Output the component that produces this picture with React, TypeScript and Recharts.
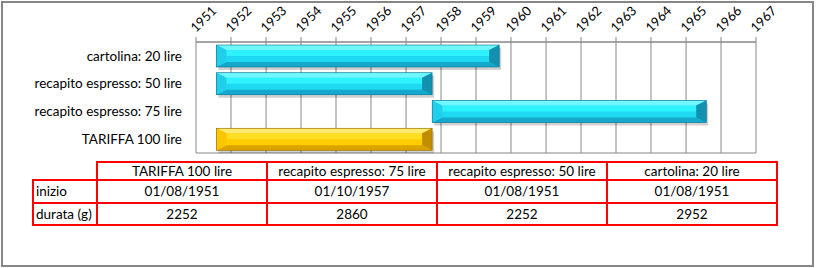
import { BarChart, Bar, XAxis, YAxis, CartesianGrid } from "recharts";

const categories = [
  "TARIFFA 100 lire",
  "recapito espresso: 75 lire",
  "recapito espresso: 50 lire",
  "cartolina: 20 lire",
];
const startDates = ["01/08/1951", "01/10/1957", "01/08/1951", "01/08/1951"];
const durations = [2252, 2860, 2252, 2952];
const years = [
  1951, 1952, 1953, 1954, 1955, 1956, 1957, 1958, 1959, 1960, 1961, 1962,
  1963, 1964, 1965, 1966, 1967,
];
const rowLabels = ["inizio", "durata (g)"];

const DAY = 86400000;
const FONT = "Lato, 'Open Sans', sans-serif";
const GRID = "#878787";

function parseDate(s: string) {
  const [d, m, y] = s.split("/").map(Number);
  return Date.UTC(y, m - 1, d);
}

const yearTicks = years.map((y) => Date.UTC(y, 0, 1));
const bandTicks = [0, ...categories.map((_, i) => i + 1)];

const data = categories.map((name, i) => {
  const s = parseDate(startDates[i]);
  return { name, range: [s, s + durations[i] * DAY] };
});

const palettes = {
  cyan: {
    top: "#6ff8ff",
    hi: "#2ef3ff",
    mid: "#1fd8f2",
    low: "#14a9ca",
    left: "#22cfea",
    right: "#138fb0",
    edge: "#0b6f8c",
  },
  gold: {
    top: "#ffeb70",
    hi: "#ffdd22",
    mid: "#ffcc00",
    low: "#dca200",
    left: "#f9c600",
    right: "#c08e00",
    edge: "#8a6500",
  },
};

function BevelBar(props: any) {
  const { x, y, width: w, height: h, payload } = props;
  if (!w || !h) return null;
  const p = payload.name.startsWith("TARIFFA") ? palettes.gold : palettes.cyan;
  const bx = 10;
  const by = 5;
  return (
    <g>
      <rect x={x + 2} y={y + 3} width={w} height={h} fill="#000" opacity={0.18} />
      <rect x={x} y={y} width={w} height={h} fill={p.mid} />
      <rect x={x + bx} y={y + by} width={w - 2 * bx} height={(h - 2 * by) / 2} fill={p.hi} />
      <polygon
        points={`${x},${y} ${x + w},${y} ${x + w - bx},${y + by} ${x + bx},${y + by}`}
        fill={p.top}
      />
      <polygon
        points={`${x},${y + h} ${x + w},${y + h} ${x + w - bx},${y + h - by} ${x + bx},${y + h - by}`}
        fill={p.low}
      />
      <polygon
        points={`${x},${y} ${x + bx},${y + by} ${x + bx},${y + h - by} ${x},${y + h}`}
        fill={p.left}
      />
      <polygon
        points={`${x + w},${y} ${x + w - bx},${y + by} ${x + w - bx},${y + h - by} ${x + w},${y + h}`}
        fill={p.right}
      />
      <rect x={x} y={y} width={w} height={h} fill="none" stroke={p.edge} strokeWidth={0.6} />
    </g>
  );
}

function YearTick(props: any) {
  const { x, y, payload } = props;
  return (
    <text
      x={x}
      y={y}
      transform={`rotate(-45 ${x} ${y})`}
      textAnchor="start"
      fontSize={13}
      fontFamily={FONT}
      fill="#000"
    >
      {new Date(payload.value).getUTCFullYear()}
    </text>
  );
}

const cellBorder = "2px solid #ff0000";

export default function App() {
  return (
    <div style={{ position: "relative", width: 816, height: 268, background: "#fff" }}>
      <style>{"body{margin:0}"}</style>
      <div
        style={{
          position: "absolute",
          left: 1,
          top: 1,
          width: 813,
          height: 266,
          border: "2px solid #868686",
          boxSizing: "border-box",
        }}
      />
      <div style={{ position: "absolute", left: 0, top: 0 }}>
        <BarChart
          width={816}
          height={268}
          data={data}
          layout="vertical"
          margin={{ top: 2, right: 60, bottom: 115, left: 0 }}
        >
          <CartesianGrid yAxisId="grid" xAxisId="time" stroke={GRID} strokeWidth={1} />
          <XAxis
            xAxisId="time"
            type="number"
            orientation="top"
            domain={[yearTicks[0], yearTicks[yearTicks.length - 1]]}
            ticks={yearTicks}
            allowDataOverflow
            height={40}
            tickSize={5}
            tickMargin={4}
            stroke={GRID}
            tick={<YearTick />}
            interval={0}
          />
          <YAxis
            yAxisId="grid"
            type="number"
            domain={[0, categories.length]}
            ticks={bandTicks}
            width={0}
            tick={false}
            tickSize={4}
            stroke={GRID}
            interval={0}
          />
          <YAxis
            yAxisId="cat"
            type="category"
            dataKey="name"
            reversed
            width={196}
            tickSize={0}
            tickMargin={14}
            axisLine={false}
            tickLine={false}
            interval={0}
            tick={{ fontSize: 13.5, fill: "#000", fontFamily: FONT }}
          />
          <Bar
            dataKey="range"
            xAxisId="time"
            yAxisId="cat"
            barSize={22}
            isAnimationActive={false}
            shape={<BevelBar />}
          />
        </BarChart>
      </div>
      <table
        style={{
          position: "absolute",
          left: 32,
          top: 161,
          borderCollapse: "collapse",
          tableLayout: "fixed",
          fontFamily: FONT,
          fontSize: 13.5,
          lineHeight: "15px",
          color: "#000",
        }}
      >
        <colgroup>
          <col style={{ width: 64 }} />
          {categories.map((c) => (
            <col key={c} style={{ width: 170 }} />
          ))}
        </colgroup>
        <tbody>
          <tr style={{ height: 18 }}>
            <td style={{ border: "none", padding: 0 }} />
            {categories.map((c) => (
              <td key={c} style={{ border: cellBorder, textAlign: "center", padding: 0 }}>
                {c}
              </td>
            ))}
          </tr>
          <tr style={{ height: 23 }}>
            <td style={{ border: cellBorder, padding: "0 2px", whiteSpace: "nowrap" }}>{rowLabels[0]}</td>
            {startDates.map((d, i) => (
              <td key={i} style={{ border: cellBorder, textAlign: "center", padding: 0 }}>
                {d}
              </td>
            ))}
          </tr>
          <tr style={{ height: 22 }}>
            <td style={{ border: cellBorder, padding: "0 2px", whiteSpace: "nowrap" }}>{rowLabels[1]}</td>
            {durations.map((d, i) => (
              <td key={i} style={{ border: cellBorder, textAlign: "center", padding: 0 }}>
                {d}
              </td>
            ))}
          </tr>
        </tbody>
      </table>
    </div>
  );
}
